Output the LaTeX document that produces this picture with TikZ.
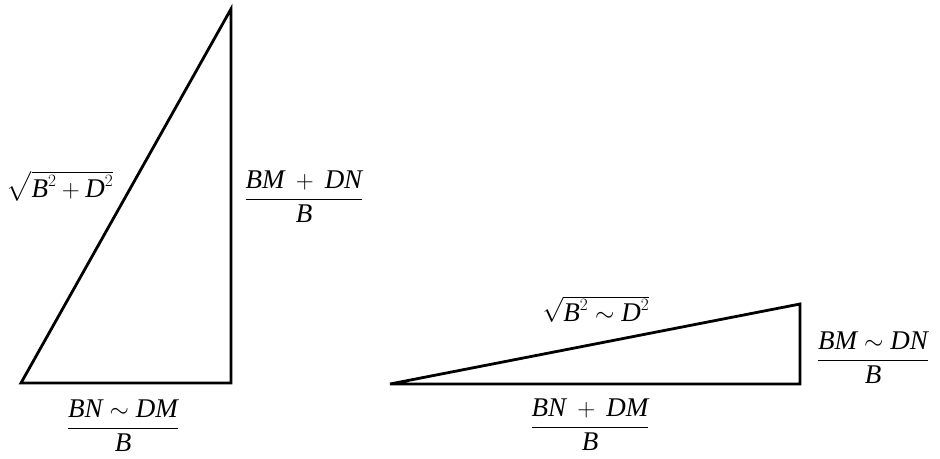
\documentclass[tikz,border=0pt]{standalone}
\usepackage{amsmath}
\usepackage{fontspec}
\setmainfont{Liberation Serif}
\newcommand\myit[1]{\textit{#1}}
\begin{document}
\begin{tikzpicture}[x=1pt,y=-1pt,
  edge/.style={line width=2.8pt,line join=miter,line cap=rect},
  lbl/.style={inner sep=0pt,font=\fontsize{27}{32}\selectfont}]
\useasboundingbox (0,0) rectangle (940,458);
% left triangle
\coordinate (A) at (21,383);
\coordinate (Bv) at (231,383);
\coordinate (C) at (231,9);
\draw[edge] (A) -- (Bv) -- (C) -- cycle;
% right triangle
\coordinate (P) at (390,384);
\coordinate (Q) at (800,384);
\coordinate (R) at (800,304);
\draw[edge] (P) -- (Q) -- (R) -- cycle;
% labels left
\node[lbl] (hypL) at (60,186) {$\sqrt{\myit{B}^{2} + \myit{D}^{2}}$};
\node[lbl] (vertL) at (304,197) {$\dfrac{\myit{BM} \:+\: \myit{DN}}{\myit{B}}$};
\node[lbl] (baseL) at (123,426) {$\dfrac{\myit{BN} \sim \myit{DM}}{\myit{B}}$};
% labels right
\node[lbl] (hypR) at (596,309) {$\sqrt{\myit{B}^{2} \sim \myit{D}^{2}}$};
\node[lbl] (vertR) at (873,358) {$\dfrac{\myit{BM} \sim \myit{DN}}{\myit{B}}$};
\node[lbl] (baseR) at (590,425) {$\dfrac{\myit{BN} \:+\: \myit{DM}}{\myit{B}}$};
\end{tikzpicture}
\end{document}
